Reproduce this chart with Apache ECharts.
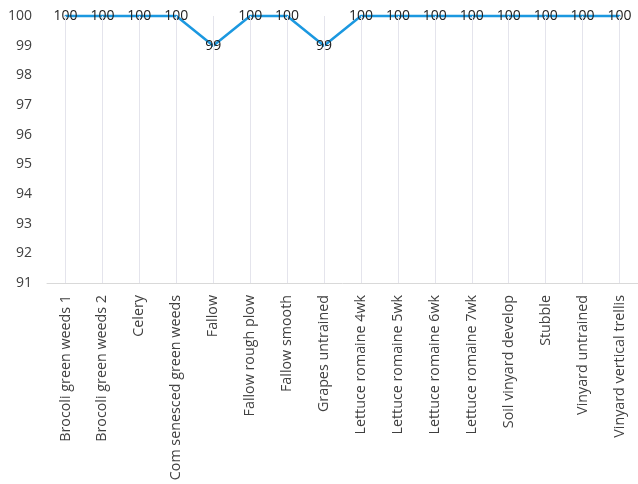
<!DOCTYPE html>
<html>
<head>
<meta charset="utf-8">
<script src="https://cdn.jsdelivr.net/npm/echarts@6/dist/echarts.min.js"></script>
<style>
  html, body { margin: 0; padding: 0; background: #ffffff; }
  #chart { width: 638px; height: 484px; }
</style>
</head>
<body>
<div id="chart"></div>
<script>
// Land-cover classes along the x axis
const categories = [
  'Brocoli green weeds 1', 'Brocoli green weeds 2', 'Celery', 'Com senesced green weeds',
  'Fallow', 'Fallow rough plow', 'Fallow smooth', 'Grapes untrained',
  'Lettuce romaine 4wk', 'Lettuce romaine 5wk', 'Lettuce romaine 6wk', 'Lettuce romaine 7wk',
  'Soil vinyard develop', 'Stubble', 'Vinyard untrained', 'Vinyard vertical trellis'
];
// Accuracy per class (%)
const accuracy = [100, 100, 100, 100, 99, 100, 100, 99, 100, 100, 100, 100, 100, 100, 100, 100];
// Value axis range
const yMin = 91;
const yMax = 100;

const FONT = '"Open Sans", "Noto Sans", sans-serif';
const TEXT = '#404040';

const chart = echarts.init(document.getElementById('chart'), null, { renderer: 'canvas' });
chart.setOption({
  animation: false,
  backgroundColor: '#ffffff',
  grid: { left: 47, right: -4, top: 16, bottom: 201, containLabel: false },
  xAxis: {
    type: 'category',
    data: categories,
    boundaryGap: true,
    axisLine: { show: true, lineStyle: { color: '#d9d9d9', width: 1 } },
    axisTick: { show: false },
    splitLine: { show: false },
    axisLabel: {
      rotate: 90,
      interval: 0,
      margin: 12,
      color: TEXT,
      fontFamily: FONT,
      fontSize: 14.3
    }
  },
  yAxis: {
    type: 'value',
    min: yMin,
    max: yMax,
    interval: 1,
    axisLine: { show: false },
    axisTick: { show: false },
    splitLine: { show: false },
    axisLabel: {
      margin: 15,
      color: TEXT,
      fontFamily: FONT,
      fontSize: 14
    }
  },
  series: [
    {
      // vertical guide lines through each category
      type: 'line',
      data: [],
      z: 1,
      silent: true,
      markLine: {
        silent: true,
        symbol: 'none',
        animation: false,
        label: { show: false },
        lineStyle: { color: '#e4e4ec', width: 1, type: 'solid' },
        emphasis: { disabled: true },
        data: categories.map(c => ({ xAxis: c }))
      }
    },
    {
      type: 'line',
      data: accuracy,
      z: 3,
      symbol: 'circle',
      symbolSize: 2,
      showSymbol: true,
      showAllSymbol: true,
      clip: false,
      itemStyle: { color: '#1b98e0', borderWidth: 0 },
      lineStyle: { color: '#1b98e0', width: 2.5 },
      label: {
        show: true,
        position: 'inside',
        color: '#222222',
        fontFamily: FONT,
        fontSize: 14
      }
    }
  ]
});
</script>
</body>
</html>
